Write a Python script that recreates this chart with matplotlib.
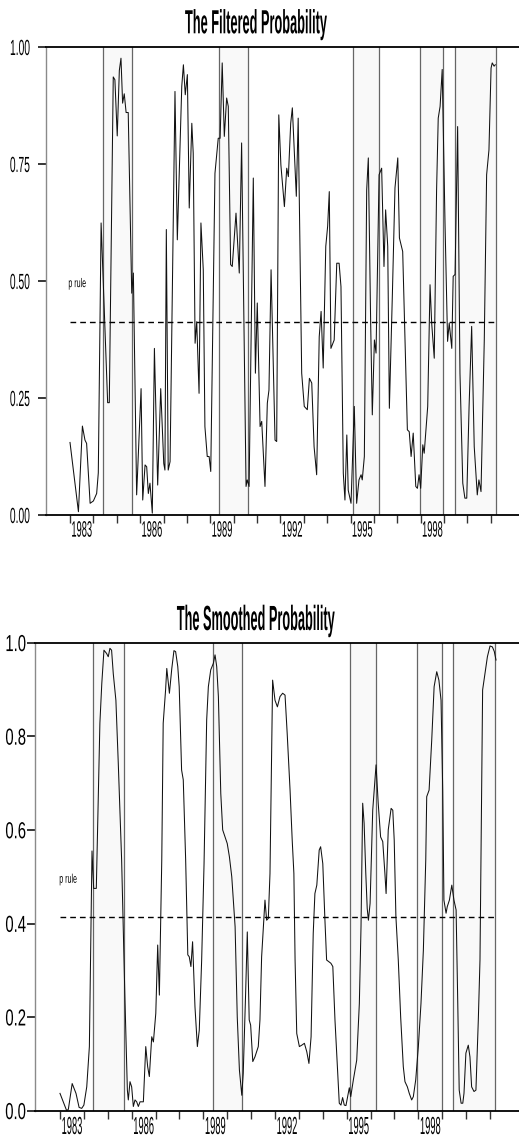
import numpy as np
import matplotlib
matplotlib.use("Agg")
import matplotlib.pyplot as plt
from matplotlib.patheffects import AbstractPathEffect
from matplotlib.transforms import Affine2D
from matplotlib.path import Path

# ---------------- data ----------------
filt_t = [1983.00, 1983.36, 1983.53, 1983.64, 1983.71, 1983.86, 1984.00, 1984.14, 1984.21, 1984.33,
          1984.61, 1984.68, 1984.85, 1984.92, 1985.02, 1985.11, 1985.18, 1985.25, 1985.32, 1985.40,
          1985.49, 1985.64, 1985.71, 1985.85, 1986.04, 1986.11, 1986.21, 1986.28, 1986.35, 1986.42,
          1986.52, 1986.61, 1986.75, 1986.88, 1987.01, 1987.06, 1987.12, 1987.20, 1987.28, 1987.49,
          1987.59, 1987.78, 1987.85, 1987.93, 1988.02, 1988.10, 1988.21, 1988.27, 1988.35, 1988.42,
          1988.52, 1988.60, 1988.70, 1988.77, 1988.87, 1988.95, 1989.02, 1989.20, 1989.34, 1989.42,
          1989.51, 1989.60, 1989.70, 1989.77, 1989.87, 1989.94, 1990.10, 1990.24, 1990.34, 1990.53,
          1990.58, 1990.66, 1990.84, 1990.93, 1991.01, 1991.13, 1991.20, 1991.34, 1991.44, 1991.51,
          1991.60, 1991.77, 1991.84, 1991.93, 1992.02, 1992.17, 1992.27, 1992.34, 1992.44, 1992.51,
          1992.59, 1992.68, 1992.76, 1992.91, 1993.02, 1993.15, 1993.24, 1993.34, 1993.44, 1993.55,
          1993.66, 1993.74, 1993.83, 1993.94, 1994.02, 1994.09, 1994.16, 1994.30, 1994.41, 1994.51,
          1994.59, 1994.69, 1994.76, 1994.84, 1994.90, 1995.02, 1995.16, 1995.26, 1995.36, 1995.45,
          1995.50, 1995.59, 1995.69, 1995.76, 1995.86, 1995.93, 1996.02, 1996.09, 1996.22, 1996.33,
          1996.43, 1996.50, 1996.59, 1996.66, 1996.79, 1996.90, 1997.02, 1997.09, 1997.23, 1997.33,
          1997.43, 1997.51, 1997.59, 1997.68, 1997.79, 1997.86, 1997.93, 1998.00, 1998.09, 1998.15,
          1998.30, 1998.40, 1998.47, 1998.58, 1998.68, 1998.75, 1998.83, 1998.92, 1999.04, 1999.15,
          1999.22, 1999.33, 1999.39, 1999.47, 1999.58, 1999.68, 1999.80, 1999.89, 1999.97, 2000.07,
          2000.18, 2000.29, 2000.42, 2000.49, 2000.58, 2000.72, 2000.82, 2000.92, 2001.01, 2001.06,
          2001.14, 2001.19]
filt_p = [0.155, 0.007, 0.190, 0.160, 0.153, 0.025, 0.030, 0.046, 0.090, 0.624,
          0.240, 0.240, 0.936, 0.930, 0.810, 0.950, 0.976, 0.880, 0.900, 0.860,
          0.860, 0.474, 0.517, 0.043, 0.270, 0.032, 0.107, 0.103, 0.046, 0.068,
          0.004, 0.356, 0.064, 0.270, 0.110, 0.096, 0.610, 0.096, 0.114, 0.905,
          0.588, 0.916, 0.962, 0.898, 0.941, 0.656, 0.837, 0.773, 0.367, 0.413,
          0.260, 0.624, 0.524, 0.189, 0.125, 0.125, 0.093, 0.730, 0.805, 0.805,
          0.966, 0.809, 0.891, 0.873, 0.535, 0.531, 0.645, 0.517, 0.795, 0.061,
          0.075, 0.061, 0.720, 0.303, 0.453, 0.189, 0.200, 0.061, 0.239, 0.267,
          0.524, 0.160, 0.157, 0.855, 0.748, 0.659, 0.741, 0.723, 0.837, 0.870,
          0.780, 0.681, 0.848, 0.303, 0.232, 0.225, 0.292, 0.282, 0.146, 0.086,
          0.381, 0.435, 0.314, 0.574, 0.617, 0.691, 0.356, 0.374, 0.538, 0.538,
          0.488, 0.089, 0.032, 0.171, 0.053, 0.025, 0.232, 0.025, 0.075, 0.086,
          0.075, 0.125, 0.695, 0.763, 0.410, 0.214, 0.374, 0.346, 0.727, 0.741,
          0.531, 0.652, 0.574, 0.228, 0.474, 0.699, 0.763, 0.592, 0.563, 0.374,
          0.182, 0.178, 0.125, 0.175, 0.061, 0.057, 0.086, 0.057, 0.150, 0.132,
          0.232, 0.492, 0.410, 0.335, 0.695, 0.848, 0.873, 0.952, 0.624, 0.371,
          0.410, 0.356, 0.510, 0.514, 0.830, 0.303, 0.068, 0.036, 0.036, 0.232,
          0.403, 0.146, 0.043, 0.075, 0.050, 0.374, 0.727, 0.780, 0.955, 0.966,
          0.959, 0.962]

smooth_t = [1983.00, 1983.28, 1983.35, 1983.51, 1983.67, 1983.80, 1983.91, 1984.00, 1984.12, 1984.23,
            1984.34, 1984.41, 1984.52, 1984.67, 1984.75, 1984.84, 1984.95, 1985.02, 1985.09, 1985.16,
            1985.23, 1985.34, 1985.44, 1985.58, 1985.72, 1985.82, 1985.86, 1985.93, 1986.00, 1986.07,
            1986.14, 1986.21, 1986.28, 1986.35, 1986.49, 1986.59, 1986.67, 1986.74, 1986.84, 1986.91,
            1987.01, 1987.09, 1987.16, 1987.26, 1987.32, 1987.42, 1987.47, 1987.58, 1987.68, 1987.77,
            1987.84, 1987.93, 1987.99, 1988.09, 1988.16, 1988.26, 1988.35, 1988.41, 1988.48, 1988.55,
            1988.65, 1988.75, 1988.83, 1988.93, 1989.03, 1989.14, 1989.21, 1989.31, 1989.42, 1989.49,
            1989.56, 1989.63, 1989.73, 1989.81, 1989.91, 1990.00, 1990.09, 1990.19, 1990.33, 1990.42,
            1990.51, 1990.61, 1990.67, 1990.77, 1990.84, 1990.92, 1990.98, 1991.07, 1991.16, 1991.30,
            1991.37, 1991.44, 1991.58, 1991.65, 1991.72, 1991.79, 1991.90, 1992.00, 1992.10, 1992.21,
            1992.32, 1992.42, 1992.51, 1992.63, 1992.72, 1992.79, 1992.84, 1992.91, 1993.02, 1993.12,
            1993.23, 1993.33, 1993.42, 1993.51, 1993.60, 1993.67, 1993.75, 1993.85, 1993.91, 1994.00,
            1994.09, 1994.16, 1994.26, 1994.34, 1994.42, 1994.51, 1994.61, 1994.69, 1994.76, 1994.83,
            1994.90, 1994.97, 1995.04, 1995.11, 1995.17, 1995.28, 1995.42, 1995.53, 1995.60, 1995.67,
            1995.73, 1995.80, 1995.86, 1995.91, 1995.98, 1996.09, 1996.23, 1996.32, 1996.42, 1996.51,
            1996.60, 1996.65, 1996.74, 1996.86, 1996.93, 1996.99, 1997.06, 1997.16, 1997.26, 1997.37,
            1997.44, 1997.54, 1997.62, 1997.72, 1997.79, 1997.89, 1998.00, 1998.11, 1998.21, 1998.31,
            1998.35, 1998.45, 1998.56, 1998.66, 1998.77, 1998.86, 1998.95, 1999.02, 1999.07, 1999.16,
            1999.21, 1999.30, 1999.40, 1999.49, 1999.58, 1999.65, 1999.71, 1999.79, 1999.86, 1999.91,
            1999.99, 2000.09, 2000.16, 2000.23, 2000.33, 2000.41, 2000.51, 2000.58, 2000.69, 2000.79,
            2000.89, 2001.00, 2001.10, 2001.18, 2001.25]
smooth_p = [0.037, 0.000, 0.003, 0.058, 0.037, 0.007, 0.005, 0.012, 0.051, 0.137,
            0.555, 0.475, 0.475, 0.828, 0.913, 0.984, 0.977, 0.970, 0.988, 0.984,
            0.934, 0.877, 0.742, 0.536, 0.236, 0.044, 0.023, 0.062, 0.051, 0.009,
            0.023, 0.019, 0.009, 0.019, 0.019, 0.137, 0.094, 0.073, 0.158, 0.147,
            0.208, 0.354, 0.247, 0.536, 0.828, 0.899, 0.945, 0.892, 0.945, 0.983,
            0.981, 0.949, 0.906, 0.728, 0.707, 0.536, 0.333, 0.329, 0.308, 0.361,
            0.222, 0.137, 0.172, 0.322, 0.528, 0.835, 0.906, 0.942, 0.956, 0.974,
            0.949, 0.885, 0.678, 0.600, 0.585, 0.571, 0.543, 0.500, 0.393, 0.200,
            0.087, 0.033, 0.080, 0.251, 0.382, 0.194, 0.183, 0.105, 0.115, 0.137,
            0.194, 0.329, 0.450, 0.407, 0.411, 0.507, 0.920, 0.877, 0.863, 0.885,
            0.892, 0.888, 0.806, 0.685, 0.578, 0.507, 0.322, 0.165, 0.137, 0.140,
            0.144, 0.126, 0.101, 0.158, 0.379, 0.464, 0.482, 0.557, 0.564, 0.528,
            0.407, 0.322, 0.318, 0.315, 0.308, 0.194, 0.094, 0.016, 0.012, 0.028,
            0.012, 0.011, 0.030, 0.049, 0.030, 0.066, 0.108, 0.229, 0.393, 0.657,
            0.614, 0.507, 0.432, 0.407, 0.443, 0.642, 0.739, 0.657, 0.585, 0.575,
            0.507, 0.464, 0.600, 0.646, 0.642, 0.578, 0.415, 0.322, 0.200, 0.094,
            0.062, 0.051, 0.037, 0.023, 0.030, 0.066, 0.137, 0.229, 0.343, 0.536,
            0.671, 0.685, 0.792, 0.906, 0.938, 0.920, 0.877, 0.685, 0.450, 0.422,
            0.436, 0.450, 0.482, 0.450, 0.429, 0.229, 0.044, 0.016, 0.016, 0.037,
            0.123, 0.140, 0.115, 0.051, 0.041, 0.044, 0.194, 0.322, 0.899, 0.934,
            0.970, 0.993, 0.991, 0.981, 0.963]

shade_start = [1984.40, 1989.39, 1995.12, 1997.95, 1999.47]
shade_end = [1985.66, 1990.63, 1996.21, 1998.97, 2001.21]
p_rule = 0.413
rule_from, rule_to = 1983.0, 2001.2

year_ticks = list(range(1983, 2002))
year_labels = [1983, 1986, 1989, 1992, 1995, 1998]
filt_yticks = [0.0, 0.25, 0.5, 0.75, 1.0]
filt_ylabels = ["0.00", "0.25", "0.50", "0.75", "1.00"]
smooth_yticks = [0.0, 0.2, 0.4, 0.6, 0.8, 1.0]
smooth_ylabels = ["0.0", "0.2", "0.4", "0.6", "0.8", "1.0"]

titles = ["The Filtered Probability", "The Smoothed Probability"]


# ------- tall, narrow lettering (text stays real text, drawn stretched vertically) -------
class Stretch(AbstractPathEffect):
    def __init__(self, sy, anchor="baseline"):
        super().__init__()
        self.sy = sy
        self.anchor = anchor

    def draw_path(self, renderer, gc, tpath, affine, rgbFace=None):
        v = tpath.vertices
        if tpath.codes is not None:
            v = v[np.asarray(tpath.codes) != Path.CLOSEPOLY]
        if len(v) == 0:
            return
        d = affine.transform(v)
        y0, y1 = d[:, 1].min(), d[:, 1].max()
        if self.anchor == "baseline":
            cy = affine.transform(np.array([[0.0, 0.0]]))[0, 1]
        elif self.anchor == "top":
            cy = y1
        elif self.anchor == "bottom":
            cy = y0
        else:
            cy = 0.5 * (y0 + y1)
        t = affine + Affine2D().translate(0, -cy).scale(1.0, self.sy).translate(0, cy)
        renderer.draw_path(gc, tpath, t, rgbFace)


plt.rcParams["font.family"] = ["Liberation Sans", "DejaVu Sans"]

W, H = 519, 1146
fig = plt.figure(figsize=(W / 100, H / 100), dpi=100)


def px_axes(left, top, right, bottom):
    return fig.add_axes([left / W, 1 - bottom / H, (right - left) / W, (bottom - top) / H])


def panel(ax, t, p, x0, x1, yticks, ylabels, ysize, ysy, ypad, xsize, xsy, rule_pos):
    ax.set_xlim(x0, x1)
    ax.set_ylim(0, 1)
    for s, e in zip(shade_start, shade_end):
        ax.axvspan(s, e, facecolor="#f9f9f9", edgecolor="none", zorder=0)
        ax.axvline(s, color="#666666", lw=0.9, zorder=1)
        ax.axvline(e, color="#666666", lw=0.9, zorder=1)
    ax.plot(t, p, color="#111111", lw=0.75, zorder=3)
    ax.plot([rule_from, rule_to], [p_rule, p_rule], color="black", lw=1.0,
            linestyle=(0, (4.1, 2.9)), zorder=4)
    txt = ax.text(rule_pos[0], rule_pos[1], "p rule", fontsize=5.1, ha="left",
                  va="baseline", zorder=5)
    txt.set_path_effects([Stretch(1.78, "baseline")])

    ax.spines["right"].set_visible(False)
    ax.spines["left"].set_color("#8a8a8a")
    ax.spines["left"].set_linewidth(1.0)
    for side in ["top", "bottom"]:
        ax.spines[side].set_color("black")
        ax.spines[side].set_linewidth(1.3)
        ax.spines[side].set_zorder(6)

    ax.set_yticks(yticks)
    ax.set_yticklabels(ylabels, fontsize=ysize)
    ax.tick_params(axis="y", length=5.8, width=1.1, pad=ypad, color="black")
    for lbl in ax.get_yticklabels():
        lbl.set_path_effects([Stretch(ysy, "center")])

    ax.set_xticks(year_ticks)
    ax.set_xticklabels([""] * len(year_ticks))
    ax.tick_params(axis="x", which="major", length=5.5, width=1.0, color="#333333")
    ax.set_xticks([y + 0.5 for y in year_labels], minor=True)
    ax.set_xticklabels([str(y) for y in year_labels], minor=True, fontsize=xsize)
    ax.tick_params(axis="x", which="minor", length=0, pad=4.0)
    for lbl in ax.get_xticklabels(minor=True):
        lbl.set_path_effects([Stretch(xsy, "top")])


# top panel: filtered
ax1 = px_axes(46, 47, 519, 515)
panel(ax1, filt_t, filt_p, 1981.973, 2002.205, filt_yticks, filt_ylabels,
      7.4, 2.13, 5.8, 6.7, 2.4, (1982.93, 0.487))

# bottom panel: smoothed
ax2 = px_axes(35, 642.7, 519, 1110.7)
panel(ax2, smooth_t, smooth_p, 1981.954, 2002.213, smooth_yticks, smooth_ylabels,
      10.7, 1.56, 0.6, 6.7, 2.65, (1982.97, 0.487))

t1 = fig.text(255.8 / W, 1 - 33.3 / H, titles[0], ha="center", va="baseline",
              fontsize=9.2, fontweight="bold")
t1.set_path_effects([Stretch(2.62, "baseline")])
t2 = fig.text(255.8 / W, 1 - 630 / H, titles[1], ha="center", va="baseline",
              fontsize=9.18, fontweight="bold")
t2.set_path_effects([Stretch(2.74, "baseline")])

fig.savefig("out.png", dpi=100)
